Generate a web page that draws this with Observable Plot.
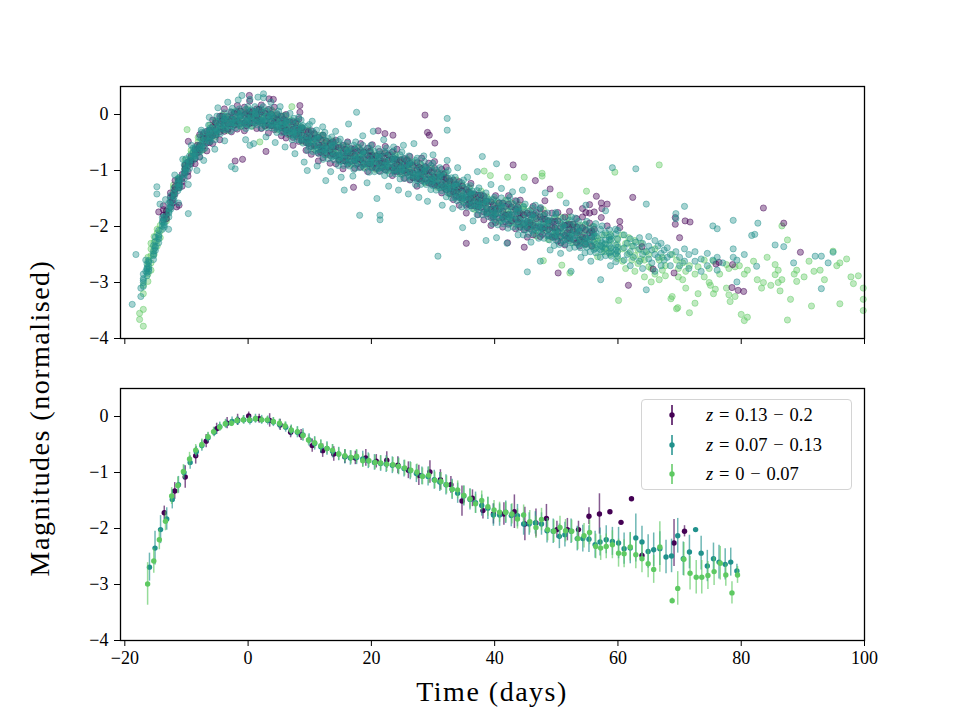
<!DOCTYPE html>
<html>
<head>
<meta charset="utf-8">
<script src="https://cdn.jsdelivr.net/npm/d3@7"></script>
<script src="https://cdn.jsdelivr.net/npm/@observablehq/plot@0.6"></script>
<style>
  body { margin: 0; background: #fff; }
  #fig { position: relative; width: 960px; height: 720px; background: #fff; font-family: "Liberation Serif", "DejaVu Serif", serif; color: #000; }
  #fig > .panel { position: absolute; left: 0; }
  .axis-title { position: absolute; font-size: 28px; letter-spacing: 1.5px; white-space: nowrap; transform: translate(-50%, -50%); }
  #ylab { transform: translate(-50%, -50%) rotate(-90deg); }
  #legend { position: absolute; left: 641px; top: 399px; width: 211px; height: 91px; box-sizing: border-box;
            border: 1px solid #d4d4d4; border-radius: 4px; background: rgba(255,255,255,0.8); }
  #legend .row { position: absolute; left: 0; height: 0; }
  #legend svg { position: absolute; left: 20px; top: -11px; }
  #legend .lab { position: absolute; left: 64px; top: -12px; font-size: 18.5px; white-space: nowrap; line-height: 24px; }
  #legend .op { display: inline-block; width: 22px; text-align: center; }
</style>
</head>
<body>
<div id="fig">
  <div class="panel" id="topPanel" style="top:0"></div>
  <div class="panel" id="bottomPanel" style="top:360px"></div>
  <div class="axis-title" id="ylab" style="left:40px; top:418px">Magnitudes (normalised)</div>
  <div class="axis-title" id="xlab" style="left:492px; top:692px">Time (days)</div>
  <div id="legend"></div>
</div>
<script>
// Redshift groups, colours and axis ticks
const groups = ["0.13 − 0.2", "0.07 − 0.13", "0 − 0.07"];
const colors = ["#440154", "#21918c", "#5ec962"];
const xTicks = [-20, 0, 20, 40, 60, 80, 100];
const yTicks = [0, -1, -2, -3, -4];

// Individual photometry, rows of [time, magnitude, magnitude, ...]
const purpleRows = [
  [-13.75, -1.70, -1.80, -1.88, -1.63], [-12.6, -1.57, -1.48, -1.40, -1.66], [-11.85, -1.29, -1.42, -1.18, -1.34],
  [-10.7, -1.20, -1.07, -1.28, -1.14], [-9.75, -0.92, -1.02, -1.10, -0.85], [-8.6, -0.79, -0.70, -0.62, -0.88],
  [-7.85, -0.55, -0.76, -0.36, -0.63], [-6.7, -0.51, -0.30, -0.65, -0.42], [-5.75, -0.22, -0.38, -0.52, -0.10],
  [-4.6, -0.31, -0.16, -0.03, -0.45], [-3.85, -0.09, -0.30, 0.10, -0.17], [-2.7, -0.17, 0.04, -0.31, -0.08],
  [-1.75, 0.04, -0.12, -0.26, 0.16], [-0.6, -0.15, 0.00, 0.13, -0.29], [0.25, 0.05, -0.16, 0.24, -0.03],
  [1.4, -0.11, 0.10, -0.25, -0.02], [2.15, 0.05, -0.11, -0.25, 0.17], [3.3, -0.19, -0.04, 0.09, -0.33],
  [4.25, -0.06, -0.27, 0.13, -0.14], [5.4, -0.24, -0.03, -0.38, -0.15], [6.15, -0.12, -0.28, -0.42, 0.00],
  [7.3, -0.41, -0.26, -0.13, -0.55], [8.25, -0.27, -0.48, -0.08, -0.35], [9.4, -0.50, -0.29, -0.64, -0.41],
  [10.25, -0.41, -0.57, -0.71, -0.29], [11.4, -0.69, -0.54, -0.41, -0.83], [12.15, -0.56, -0.77, -0.37, -0.64],
  [13.3, -0.73, -0.52, -0.87, -0.64], [14.25, -0.58, -0.74, -0.88, -0.46], [15.4, -0.83, -0.68, -0.55, -0.97],
  [16.15, -0.68, -0.89, -0.49, -0.76], [17.3, -0.82, -0.61, -0.96, -0.73], [18.25, -0.64, -0.80, -0.94, -0.52],
  [19.4, -0.88, -0.73, -0.60, -1.02], [20.15, -0.73, -0.94, -0.54, -0.81], [21.3, -0.87, -0.66, -1.01, -0.78],
  [22.25, -0.69, -0.85, -0.99, -0.57], [23.4, -0.95, -0.80, -0.67, -1.09], [24.15, -0.81, -1.02, -0.62, -0.89],
  [25.3, -1.00, -0.79, -1.14, -0.91], [26.25, -0.87, -1.03, -1.17, -0.75], [27.4, -1.14, -0.99, -0.86, -1.28],
  [28.15, -0.97, -1.18, -0.78, -1.05], [29.3, -1.08, -0.87, -1.22, -0.99], [30.25, -0.96, -1.12, -1.26, -0.84],
  [31.4, -1.26, -1.11, -0.98, -1.40], [32.15, -1.13, -1.34, -0.94, -1.21], [33.3, -1.38, -1.17, -1.52, -1.29],
  [34.25, -1.32, -1.48, -1.62, -1.20], [35.4, -1.62, -1.47, -1.34, -1.76], [36.15, -1.42, -1.63, -1.23, -1.50],
  [37.3, -1.65, -1.44, -1.79, -1.56], [38.25, -1.58, -1.74, -1.88, -1.46], [39.4, -1.84, -1.69, -1.56, -1.98],
  [40.15, -1.68, -1.93, -1.45, -1.78], [41.3, -1.84, -1.58, -2.01, -1.73], [42.25, -1.60, -1.79, -1.96, -1.45],
  [43.4, -1.87, -1.69, -1.54, -2.04], [44.15, -1.76, -2.01, -1.53, -1.86], [45.3, -2.02, -1.76, -2.19, -1.91],
  [46.25, -1.79, -1.98, -2.15, -1.64], [47.4, -2.01, -1.83, -1.68, -2.18], [48.15, -1.77, -2.02, -1.54, -1.87],
  [49.3, -2.02, -1.76, -2.19, -1.91], [50.25, -1.90, -2.09, -2.26, -1.75], [51.4, -2.16, -1.98, -1.83, -2.33],
  [52.15, -1.96, -2.21, -1.73, -2.06], [53.3, -2.12, -1.86, -2.29, -2.01], [54.25, -1.83, -2.02, -2.19, -1.68],
  [55.4, -1.94, -1.76, -1.61, -2.11], [56.15, -1.74, -2.05], [57.3, -1.84, -1.58], [58.25, -1.60, -1.99]
];
const purpleCore = [
  [-13.25, -1.79, -1.86, -1.73], [-12.25, -1.53, -1.45, -1.58], [-11.25, -1.18, -1.25, -1.31],
  [-10.25, -0.97, -1.04, -0.91], [-9.25, -0.83, -0.75, -0.88], [-8.25, -0.55, -0.62, -0.68],
  [-7.25, -0.43, -0.56, -0.34], [-6.25, -0.41, -0.28, -0.50], [-5.25, -0.15, -0.27, -0.36],
  [-4.25, -0.12, -0.25, -0.03], [-3.25, -0.17, -0.04, -0.26], [-2.25, 0.02, -0.10, -0.19],
  [-1.25, -0.03, -0.16, 0.06], [-0.25, -0.11, 0.02, -0.20], [0.75, 0.06, -0.06, -0.15],
  [1.75, 0.00, -0.13, 0.09], [2.75, -0.11, 0.02, -0.20], [3.75, 0.01, -0.11, -0.20],
  [4.75, -0.09, -0.22, 0.00], [5.75, -0.22, -0.09, -0.31], [6.75, -0.13, -0.25, -0.34],
  [7.75, -0.24, -0.37, -0.15], [8.75, -0.37, -0.24, -0.46], [9.75, -0.31, -0.43, -0.52],
  [10.75, -0.43, -0.56, -0.34], [11.75, -0.58, -0.45, -0.67], [12.75, -0.48, -0.60, -0.69],
  [13.75, -0.58, -0.71, -0.49], [14.75, -0.72, -0.59, -0.81], [15.75, -0.62, -0.74, -0.83],
  [16.75, -0.70, -0.83, -0.61], [17.75, -0.79, -0.66, -0.88], [18.75, -0.67, -0.79, -0.88],
  [19.75, -0.75, -0.88, -0.66], [20.75, -0.87, -0.74, -0.96], [21.75, -0.74, -0.86, -0.95],
  [22.75, -0.81, -0.94, -0.72], [23.75, -0.92, -0.79, -1.01], [24.75, -0.81, -0.93, -1.02],
  [25.75, -0.91, -1.04, -0.82], [26.75, -1.04, -0.91, -1.13], [27.75, -0.94, -1.06, -1.15],
  [28.75, -1.02, -1.15, -0.93], [29.75, -1.15, -1.02, -1.24], [30.75, -1.06, -1.18, -1.27],
  [31.75, -1.16, -1.29, -1.07], [32.75, -1.32, -1.19, -1.41], [33.75, -1.25, -1.37, -1.46],
  [34.75, -1.37, -1.50, -1.28], [35.75, -1.51, -1.38, -1.60], [36.75, -1.42, -1.54, -1.63],
  [37.75, -1.53, -1.66, -1.44], [38.75, -1.68, -1.55, -1.77], [39.75, -1.62, -1.74, -1.83],
  [40.75, -1.69, -1.85, -1.58], [41.75, -1.80, -1.64, -1.91], [42.75, -1.65, -1.79, -1.90],
  [43.75, -1.76, -1.92, -1.65], [44.75, -1.95, -1.79, -2.06], [45.75, -1.79, -1.93, -2.04],
  [46.75, -1.86, -2.02, -1.75], [47.75, -2.03, -1.87, -2.14], [48.75, -1.91, -2.05, -2.16],
  [49.75, -2.02, -2.18, -1.91], [50.75, -2.18, -2.02, -2.29], [51.75, -1.97, -2.11, -2.22],
  [52.75, -2.07, -2.23, -1.96], [53.75, -2.24, -2.08, -2.35], [54.75, -2.06, -2.20, -2.31],
  [55.75, -2.19, -2.35, -2.08]
];
const purpleScatter = [
  [-14.5, -1.74], [-11.6, -1.65], [-11.2, -1.62], [-9.7, -0.48], [-2.1, -0.83], [-0.9, -0.80],
  [0.2, 0.34], [2.9, -0.66], [3.4, 0.28], [4.1, 0.27], [8.4, 0.16, 0.04], [17.1, -1.30],
  [21.1, -0.29], [22.2, -0.34], [23.5, -0.37], [28.7, -0.01], [29.1, -0.32], [29.4, -0.37],
  [30.3, -0.51], [35.4, -2.30], [42.1, -2.29], [43.0, -0.90], [44.8, -2.37], [46.6, -1.18],
  [49.0, -1.33], [50.3, -2.83], [54.8, -1.75], [56.5, -1.46], [57.4, -1.68], [60.3, -1.91, -2.02],
  [61.7, -3.05], [62.4, -1.48], [63.9, -2.36], [65.7, -2.76], [69.1, -2.83], [69.3, -1.84, -1.96],
  [70.0, -2.20], [70.9, -1.90], [71.7, -1.92], [75.9, -2.67], [76.4, -2.64], [78.5, -3.09],
  [78.6, -2.68], [79.5, -3.14], [80.4, -3.16], [83.6, -1.67], [86.9, -1.94], [89.6, -2.46]
];
const tealRows = [
  [-17.0, -2.93, -3.00, -2.85, -3.07, -2.96], [-16.4, -2.82, -2.74, -2.88, -2.67, -2.76],
  [-16.1, -2.64, -2.72, -2.80, -2.61, -2.76], [-15.35, -2.49, -2.44, -2.34, -2.52, -2.59],
  [-15.05, -2.27, -2.43, -2.35, -2.19, -2.38], [-14.5, -2.15, -2.22, -2.07, -2.29, -2.18],
  [-13.9, -1.99, -1.91, -2.05, -1.84, -1.93], [-13.6, -1.85, -1.93, -2.01, -1.82, -1.97],
  [-12.85, -1.73, -1.68, -1.58, -1.76, -1.83], [-12.55, -1.53, -1.69, -1.61, -1.45, -1.64],
  [-12.0, -1.40, -1.47, -1.32, -1.54, -1.43], [-11.4, -1.30, -1.22, -1.36, -1.15, -1.24],
  [-11.1, -1.15, -1.23, -1.31, -1.12, -1.27], [-10.35, -1.05, -1.00, -0.90, -1.08, -1.15],
  [-10.05, -0.87, -1.03, -0.95, -0.79, -0.98], [-9.5, -0.82, -0.89, -0.74, -0.96, -0.85],
  [-8.9, -0.75, -0.67, -0.81, -0.60, -0.69], [-8.6, -0.62, -0.70, -0.78, -0.59, -0.74],
  [-7.85, -0.61, -0.54, -0.41, -0.66, -0.75], [-7.55, -0.43, -0.64, -0.53, -0.32, -0.58],
  [-7.0, -0.41, -0.51, -0.31, -0.60, -0.46], [-6.4, -0.39, -0.29, -0.48, -0.19, -0.32],
  [-6.1, -0.28, -0.38, -0.48, -0.24, -0.43], [-5.35, -0.31, -0.24, -0.11, -0.36, -0.45],
  [-5.05, -0.14, -0.35, -0.24, -0.03, -0.29], [-4.5, -0.15, -0.25, -0.05, -0.34, -0.20],
  [-3.9, -0.17, -0.07, -0.26, 0.03, -0.10], [-3.6, -0.07, -0.17, -0.27, -0.03, -0.22],
  [-2.85, -0.15, -0.08, 0.05, -0.20, -0.29], [-2.55, 0.00, -0.21, -0.10, 0.11, -0.15],
  [-2.0, -0.05, -0.15, 0.05, -0.24, -0.10], [-1.4, -0.10, 0.00, -0.19, 0.10, -0.03],
  [-1.1, -0.01, -0.11, -0.21, 0.03, -0.16], [-0.35, -0.11, -0.04, 0.09, -0.16, -0.25],
  [-0.05, 0.03, -0.18, -0.07, 0.14, -0.12], [0.5, -0.02, -0.12, 0.08, -0.21, -0.07],
  [1.1, -0.06, 0.04, -0.15, 0.14, 0.01], [1.4, 0.02, -0.08, -0.18, 0.06, -0.13],
  [2.15, -0.10, -0.03, 0.10, -0.15, -0.24], [2.45, 0.03, -0.18, -0.07, 0.14, -0.12],
  [3.0, -0.04, -0.14, 0.06, -0.23, -0.09], [3.6, -0.10, 0.00, -0.19, 0.10, -0.03],
  [3.9, -0.04, -0.14, -0.24, 0.00, -0.19], [4.65, -0.18, -0.11, 0.02, -0.23, -0.32],
  [4.95, -0.05, -0.26, -0.15, 0.06, -0.20], [5.5, -0.13, -0.23, -0.03, -0.32, -0.18],
  [6.1, -0.22, -0.12, -0.31, -0.02, -0.15], [6.4, -0.15, -0.25, -0.35, -0.11, -0.30],
  [7.15, -0.31, -0.24, -0.11, -0.36, -0.45], [7.45, -0.18, -0.39, -0.28, -0.07, -0.33],
  [8.0, -0.26, -0.36, -0.16, -0.45, -0.31], [8.6, -0.35, -0.22, -0.46, -0.10, -0.26],
  [8.9, -0.25, -0.38, -0.51, -0.20, -0.44], [9.65, -0.46, -0.38, -0.21, -0.52, -0.64],
  [9.95, -0.32, -0.58, -0.44, -0.18, -0.50], [10.5, -0.42, -0.55, -0.30, -0.66, -0.48],
  [11.1, -0.53, -0.40, -0.64, -0.28, -0.44], [11.4, -0.43, -0.56, -0.69, -0.38, -0.62],
  [12.15, -0.62, -0.54, -0.37, -0.68, -0.80], [12.45, -0.46, -0.72, -0.58, -0.32, -0.64],
  [13.0, -0.55, -0.68, -0.43, -0.79, -0.61], [13.6, -0.65, -0.52, -0.76, -0.40, -0.56],
  [13.9, -0.55, -0.68, -0.81, -0.50, -0.74], [14.65, -0.73, -0.65, -0.48, -0.79, -0.91],
  [14.95, -0.58, -0.84, -0.70, -0.44, -0.76], [15.5, -0.67, -0.80, -0.55, -0.91, -0.73],
  [16.1, -0.76, -0.63, -0.87, -0.51, -0.67], [16.4, -0.66, -0.79, -0.92, -0.61, -0.85],
  [17.15, -0.80, -0.72, -0.55, -0.86, -0.98], [17.45, -0.63, -0.89, -0.75, -0.49, -0.81],
  [18.0, -0.71, -0.84, -0.59, -0.95, -0.77], [18.6, -0.80, -0.67, -0.91, -0.55, -0.71],
  [18.9, -0.70, -0.83, -0.96, -0.65, -0.89], [19.65, -0.85, -0.77, -0.60, -0.91, -1.03],
  [19.95, -0.69, -0.95, -0.81, -0.55, -0.87], [20.5, -0.78, -0.91, -0.66, -1.02, -0.84],
  [21.1, -0.86, -0.73, -0.97, -0.61, -0.77], [21.4, -0.76, -0.89, -1.02, -0.71, -0.95],
  [22.15, -0.91, -0.83, -0.66, -0.97, -1.09], [22.45, -0.74, -1.00, -0.86, -0.60, -0.92],
  [23.0, -0.82, -0.95, -0.70, -1.06, -0.88], [23.6, -0.90, -0.77, -1.01, -0.65, -0.81],
  [23.9, -0.80, -0.93, -1.06, -0.75, -0.99], [24.65, -0.97, -0.89, -0.72, -1.03, -1.15],
  [24.95, -0.81, -1.07, -0.93, -0.67, -0.99], [25.5, -0.90, -1.03, -0.78, -1.14, -0.96],
  [26.1, -0.99, -0.86, -1.10, -0.74, -0.90], [26.4, -0.90, -1.03, -1.16, -0.85, -1.09],
  [27.15, -1.07, -0.99, -0.82, -1.13, -1.25], [27.45, -0.92, -1.18, -1.04, -0.78, -1.10],
  [28.0, -1.01, -1.14, -0.89, -1.25, -1.07], [28.6, -1.09, -0.96, -1.20, -0.84, -1.00],
  [28.9, -0.99, -1.12, -1.25, -0.94, -1.18], [29.65, -1.16, -1.08, -0.91, -1.22, -1.34],
  [29.95, -1.01, -1.27, -1.13, -0.87, -1.19], [30.5, -1.11, -1.24, -0.99, -1.35, -1.17],
  [31.1, -1.20, -1.07, -1.31, -0.95, -1.11], [31.4, -1.10, -1.23, -1.36, -1.05, -1.29],
  [32.15, -1.29, -1.21, -1.04, -1.35, -1.47], [32.45, -1.14, -1.40, -1.26, -1.00, -1.32],
  [33.0, -1.25, -1.38, -1.13, -1.49, -1.31], [33.6, -1.37, -1.24, -1.48, -1.12, -1.28],
  [33.9, -1.28, -1.41, -1.54, -1.23, -1.47], [34.65, -1.47, -1.39, -1.22, -1.53, -1.65],
  [34.95, -1.31, -1.57, -1.43, -1.17, -1.49], [35.5, -1.41, -1.54, -1.29, -1.65, -1.47],
  [36.1, -1.52, -1.39, -1.63, -1.27, -1.43], [36.4, -1.42, -1.55, -1.68, -1.37, -1.61],
  [37.15, -1.61, -1.53, -1.36, -1.67, -1.79], [37.45, -1.45, -1.71, -1.57, -1.31, -1.63],
  [38.0, -1.55, -1.68, -1.43, -1.79, -1.61], [38.6, -1.65, -1.52, -1.76, -1.40, -1.56],
  [38.9, -1.56, -1.69, -1.82, -1.51, -1.75], [39.65, -1.77, -1.69, -1.52, -1.83, -1.95],
  [39.95, -1.62, -1.88, -1.74, -1.48, -1.80], [40.5, -1.69, -1.84, -1.56, -1.97, -1.76],
  [41.1, -1.77, -1.62, -1.90, -1.49, -1.67], [41.4, -1.65, -1.80, -1.95, -1.59, -1.87],
  [42.15, -1.82, -1.73, -1.53, -1.89, -2.03], [42.45, -1.64, -1.94, -1.78, -1.48, -1.85],
  [43.0, -1.73, -1.88, -1.60, -2.01, -1.80], [43.6, -1.83, -1.68, -1.96, -1.55, -1.73],
  [43.9, -1.73, -1.88, -2.03, -1.67, -1.95], [44.65, -1.94, -1.85, -1.65, -2.01, -2.15],
  [44.95, -1.76, -2.06, -1.90, -1.60, -1.97], [45.5, -1.86, -2.01, -1.73, -2.14, -1.93],
  [46.1, -1.95, -1.80, -2.08, -1.67, -1.85], [46.4, -1.83, -1.98, -2.13, -1.77, -2.05],
  [47.15, -2.00, -1.91, -1.71, -2.07, -2.21], [47.45, -1.82, -2.12, -1.96, -1.66, -2.03],
  [48.0, -1.93, -2.08, -1.80, -2.21, -2.00], [48.6, -2.04, -1.89, -2.17, -1.76, -1.94],
  [48.9, -1.94, -2.09, -2.24, -1.88, -2.16], [49.65, -2.13, -2.04, -1.84, -2.20, -2.34],
  [49.95, -1.94, -2.24, -2.08, -1.78, -2.15], [50.5, -2.04, -2.19, -1.91, -2.32, -2.11],
  [51.1, -2.13, -1.98, -2.26, -1.85, -2.03], [51.4, -2.01, -2.16, -2.31, -1.95, -2.23],
  [52.15, -2.18, -2.09, -1.89, -2.25, -2.39], [52.45, -1.99, -2.29, -2.13, -1.83, -2.20],
  [53.0, -2.09, -2.24, -1.96, -2.37, -2.16], [53.6, -2.19, -2.04, -2.32, -1.91, -2.09],
  [53.9, -2.08, -2.23, -2.38, -2.02, -2.30], [54.65, -2.26, -2.17, -1.97, -2.33, -2.47],
  [54.95, -2.07, -2.37, -2.21, -1.91, -2.28], [55.5, -2.17, -2.32, -2.04, -2.45, -2.24],
  [56.1, -2.28, -2.13, -2.41, -2.00, -2.18], [56.4, -2.17, -2.32, -2.47, -2.11, -2.39],
  [57.15, -2.34, -2.25, -2.05, -2.41, -2.55], [57.45, -2.15, -2.45, -2.29, -1.99, -2.36],
  [58.0, -2.24, -2.39, -2.11, -2.52, -2.31], [58.6, -2.34, -2.19, -2.47, -2.06, -2.24],
  [58.9, -2.23, -2.38, -2.53, -2.17, -2.45], [59.65, -2.42, -2.33, -2.13, -2.49, -2.63],
  [59.95, -2.23, -2.53, -2.37, -2.07, -2.44]
];
const tealScatter = [
  [-18.8, -3.39], [-18.2, -2.50], [-17.4, -3.25, -3.10], [-16.6, -2.60, -2.80], [-14.8, -1.29, -1.42],
  [-14.3, -1.60], [-13.4, -1.52], [-12.9, -2.05], [-11.9, -1.08], [-11.3, -1.58], [-10.6, -0.80],
  [-9.7, -1.77, -1.25], [-9.2, -0.55], [-8.3, -1.00], [-7.6, -0.28], [-7.2, -0.82], [-6.3, -0.05],
  [-5.4, -0.62], [-4.9, 0.12], [-3.8, -0.47], [-3.3, 0.22], [-2.7, -0.93], [-2.1, -0.97], [-1.6, 0.26],
  [-1.0, 0.34], [-0.4, -0.45], [0.3, 0.27, -0.55], [0.9, -0.52], [1.6, 0.31], [2.5, 0.30, 0.37],
  [2.9, -0.40], [3.7, 0.22], [4.4, -0.50], [5.2, 0.14], [6.0, -0.58], [6.8, 0.02], [7.6, -0.70],
  [8.2, -0.05], [9.1, -0.85], [9.6, -1.00], [10.4, -0.12], [11.2, -0.92], [12.1, -0.22], [12.6, -1.18],
  [13.4, -1.02], [14.2, -0.30], [15.1, -1.12], [15.6, -1.35], [16.3, -0.17], [17.0, -1.10], [17.6, 0.04],
  [18.1, -1.80], [18.6, -0.38], [19.3, -1.22], [20.3, -0.30], [20.9, -1.50], [21.4, -1.80, -1.88],
  [22.0, -0.45], [22.8, -1.28], [23.6, -0.58], [24.4, -1.35], [25.2, -0.55], [26.0, -1.42], [26.9, -0.52],
  [27.7, -1.48], [28.5, -0.74], [29.1, -1.55], [30.0, -0.72], [30.8, -2.53], [31.5, -1.62],
  [32.3, -0.07, -0.28, -0.82], [33.2, -1.68], [34.0, -0.95], [34.8, -2.02], [35.6, -1.12], [36.5, -1.90],
  [37.2, -1.02], [38.0, -0.75], [38.6, -2.25], [39.4, -1.25], [40.3, -0.88, -2.20], [41.1, -1.32],
  [42.0, -2.30], [42.9, -1.38], [43.8, -2.15], [44.5, -1.35], [45.3, -2.81], [45.9, -2.28], [46.6, -1.62],
  [47.4, -2.62], [48.2, -1.40], [49.0, -2.42], [49.9, -1.75], [50.7, -2.48], [51.6, -1.58], [52.4, -2.80],
  [53.1, -1.85], [54.0, -2.55], [54.8, -1.62], [55.6, -2.62], [56.4, -1.95], [57.2, -2.95], [58.0, -1.72],
  [58.8, -2.70], [59.1, -0.95], [59.6, -2.05],
  [61.0, -2.15, -2.38, -2.60], [61.5, -2.30, -2.50], [62.0, -2.22, -2.45, -2.70], [62.5, -2.35, -2.55],
  [62.9, -0.97, -2.28], [63.5, -2.20, -2.40, -2.62], [64.0, -2.30, -2.50, -2.75], [64.6, -1.60, -2.45, -3.13],
  [65.0, -2.18, -2.35, -2.58], [65.5, -2.42, -2.65], [66.0, -2.25, -2.50, -2.80], [66.5, -2.35, -2.55],
  [67.0, -2.30, -2.48, -2.70], [67.5, -2.42, -2.60], [68.0, -2.38, -2.55], [68.5, -2.50, -2.70],
  [69.4, -1.77, -1.86, -2.45], [70.0, -2.55, -2.70], [70.8, -1.64, -2.40, -2.62], [71.5, -2.50, -2.75],
  [72.5, -2.45, -2.62], [73.5, -2.58, -2.80], [74.5, -2.48, -2.70], [75.4, -1.99, -2.60],
  [76.1, -2.04, -2.55, -2.78], [77.0, -2.65], [78.7, -1.89, -2.40, -2.55], [79.3, -2.99, -2.60],
  [80.5, -2.50], [81.7, -2.16], [82.2, -2.14], [82.5, -2.71], [82.7, -1.94], [85.5, -2.33],
  [86.9, -2.36], [88.5, -2.65], [92.0, -2.53], [93.0, -2.53, -3.11], [94.1, -2.65], [94.9, -2.46]
];
const greenRows = [
  [-17.6, -3.55, -3.66], [-17.0, -3.78, -3.05, -3.20, -3.48], [-16.25, -2.55, -2.70, -2.85, -2.98, -2.62],
  [-15.75, -2.40, -2.52, -2.65, -2.30, -2.78], [-15.25, -2.28, -2.40, -2.50, -2.18], [-14.75, -2.12, -2.25, -2.35, -2.05],
  [-14.25, -1.98, -2.08, -2.20], [-13.25, -1.78, -1.86, -1.72, -1.90], [-12.1, -1.39, -1.31, -1.44, -1.26],
  [-11.3, -1.14, -1.21, -1.31, -1.16], [-10.2, -0.97, -0.90, -0.81, -0.95], [-9.9, -0.27],
  [-9.25, -0.70, -0.78, -0.64, -0.82], [-8.1, -0.60, -0.49, -0.68, -0.41], [-7.3, -0.38, -0.49, -0.63, -0.42],
  [-6.2, -0.42, -0.32, -0.19, -0.38], [-5.25, -0.21, -0.32, -0.12, -0.39], [-4.1, -0.20, -0.09, -0.28, -0.01],
  [-3.3, -0.04, -0.15, -0.29, -0.08], [-2.2, -0.18, -0.08, 0.05, -0.14], [-1.25, -0.03, -0.14, 0.06, -0.21],
  [-0.1, -0.10, 0.01, -0.18, 0.09], [0.7, 0.04, -0.07, -0.21, 0.00], [1.8, -0.14, -0.04, 0.09, -0.10],
  [1.9, -0.49], [2.75, -0.03, -0.14, 0.06, -0.21], [3.9, -0.12, -0.01, -0.20, 0.07],
  [4.7, -0.02, -0.13, -0.27, -0.06], [5.8, -0.25, -0.15, -0.02, -0.21], [6.75, -0.19, -0.30, -0.10, -0.37],
  [7.1, 0.14], [7.9, -0.31, -0.20, -0.39, -0.12], [8.7, -0.23, -0.34, -0.48, -0.27],
  [9.8, -0.51, -0.41, -0.28, -0.47], [10.75, -0.44, -0.55, -0.35, -0.62], [11.9, -0.56, -0.45, -0.64, -0.37],
  [12.7, -0.47, -0.58, -0.72, -0.51], [13.8, -0.70, -0.60, -0.47, -0.66], [14.75, -0.64, -0.75, -0.55, -0.82],
  [15.9, -0.75, -0.64, -0.83, -0.56], [16.7, -0.64, -0.75, -0.89, -0.68], [17.8, -0.82, -0.72, -0.59, -0.78],
  [18.75, -0.76, -0.87, -0.67, -0.94], [19.9, -0.84, -0.73, -0.92, -0.65], [20.7, -0.73, -0.84, -0.98, -0.77],
  [21.8, -0.93, -0.83, -0.70, -0.89], [22.75, -0.82, -0.93, -0.73, -1.00], [23.9, -0.91, -0.80, -0.99, -0.72],
  [24.7, -0.81, -0.92, -1.06, -0.85], [25.8, -1.03, -0.93, -0.80, -0.99], [26.75, -0.94, -1.05, -0.85, -1.12],
  [27.9, -1.07, -0.96, -1.15, -0.88], [28.7, -0.97, -1.08, -1.22, -1.01], [29.8, -1.19, -1.09, -0.96, -1.15],
  [30.75, -1.12, -1.23, -1.03, -1.30], [31.9, -1.24, -1.13, -1.32, -1.05], [32.7, -1.17, -1.28, -1.42, -1.21],
  [33.8, -1.40, -1.30, -1.17, -1.36], [34.75, -1.35, -1.46, -1.26, -1.53], [35.9, -1.50, -1.39, -1.58, -1.31],
  [36.7, -1.44, -1.55, -1.69, -1.48], [37.8, -1.60, -1.50, -1.37, -1.56], [38.75, -1.56, -1.67, -1.47, -1.74],
  [39.9, -1.71, -1.60, -1.79, -1.52], [40.7, -1.58, -1.73, -1.91, -1.63], [41.8, -1.83, -1.70, -1.53, -1.78],
  [42.75, -1.70, -1.84, -1.58, -1.94], [43.9, -1.86, -1.72, -1.97, -1.61], [44.7, -1.64, -1.79, -1.97, -1.69],
  [45.8, -2.01, -1.88, -1.71, -1.96], [46.75, -1.93, -2.07, -1.81, -2.17], [47.9, -1.95, -1.81, -2.06, -1.70],
  [48.7, -1.90, -2.05, -2.23, -1.95], [49.8, -2.16, -2.03, -1.86, -2.11], [50.75, -1.95, -2.09, -1.83, -2.19],
  [51.9, -2.09, -1.95, -2.20, -1.84], [52.7, -1.96, -2.11, -2.29, -2.01], [53.8, -2.28, -2.15, -1.98, -2.23],
  [54.75, -2.08, -2.22, -1.96, -2.32], [55.9, -2.25, -2.11, -2.36, -2.00], [56.7, -2.21, -2.36, -2.54, -2.26],
  [57.8, -2.45, -2.32, -2.15, -2.40], [58.75, -2.26, -2.40, -2.14, -2.50], [59.9, -2.46, -2.32, -2.57, -2.21]
];
const greenScatter = [
  [38.3, -1.01], [39.3, -1.09], [42.1, -1.12], [44.8, -1.12], [47.7, -1.05, -1.10], [47.9, -2.61],
  [50.6, -1.44], [50.9, -2.69], [52.2, -2.83], [54.9, -1.37], [59.5, -1.03], [60.1, -3.32],
  [60.75, -2.15, -2.40, -2.62], [61.25, -2.30, -2.75], [61.75, -2.20, -2.48], [62.25, -2.60, -2.35],
  [62.75, -2.25, -2.52, -2.80], [63.25, -2.42, -2.66], [63.75, -2.30, -2.58], [64.3, -2.45, -2.60, -2.90],
  [65.0, -2.50, -2.72], [65.4, -2.75, -2.99], [66.0, -2.40, -2.85], [66.7, -0.90, -2.60, -2.95],
  [67.2, -2.55, -2.78], [67.7, -2.88, -2.70], [68.6, -3.29], [68.8, -2.50, -3.25], [69.5, -3.47, -2.60],
  [69.7, -3.45], [69.8, -2.75, -2.90], [70.5, -2.95, -2.65], [71.0, -3.10, -2.80], [71.6, -3.54, -2.70],
  [72.5, -3.37, -2.85], [73.0, -3.20, -2.72], [74.0, -2.90, -2.60], [74.8, -3.00, -2.75], [75.0, -3.05],
  [75.5, -3.20, -2.62], [75.8, -3.12], [76.5, -2.85], [77.6, -3.10, -2.68], [78.0, -2.75, -3.22],
  [78.2, -3.34], [79.0, -2.72, -3.25], [79.7, -2.70], [80.0, -3.57], [80.5, -2.85, -3.68],
  [81.0, -3.62, -2.78], [82.0, -2.62], [82.6, -2.95], [83.3, -3.10], [83.6, -3.00], [84.2, -2.55],
  [84.8, -3.05], [85.5, -2.68, -2.86], [86.0, -3.00, -2.78], [86.3, -3.15], [86.6, -1.99, -2.95],
  [87.5, -2.24, -3.67], [88.0, -3.30], [88.6, -2.85], [89.0, -2.78, -2.98], [90.2, -2.90],
  [91.0, -2.62], [91.4, -3.42], [91.8, -2.80], [92.8, -2.78], [93.5, -2.95], [94.9, -2.44],
  [95.5, -2.70], [96.0, -2.65, -3.38], [97.1, -2.58], [97.8, -2.90], [98.2, -3.02], [99.0, -2.88],
  [99.8, -3.10, -3.30, -3.50]
];

// Binned means with their spread, one set per redshift group
const purpleDays = [-13.6, -11.9, -10.2, -8.5, -6.8, -5.1, -3.4, -1.7, 0.1, 1.8, 3.5, 5.2, 6.9, 8.6, 10.4, 12.1, 13.9, 15.7, 17.4, 19.1, 20.8, 22.5, 24.3, 26.0, 27.7, 29.5, 31.2, 32.9, 34.7, 36.4, 38.1, 39.8, 41.5, 43.2, 44.9, 46.7, 48.4, 50.1, 51.8, 53.6, 55.3, 57.0, 58.7, 60.5, 62.2, 63.9, 69.1, 70.8];
const purpleMag = [-1.72, -1.33, -1.08, -0.70, -0.44, -0.22, -0.12, -0.06, 0.01, -0.04, -0.07, -0.15, -0.28, -0.33, -0.52, -0.61, -0.67, -0.72, -0.74, -0.74, -0.80, -0.78, -0.87, -0.96, -1.05, -0.99, -1.13, -1.22, -1.51, -1.46, -1.68, -1.74, -1.74, -1.70, -1.92, -1.90, -1.82, -2.02, -2.02, -2.02, -1.78, -1.74, -1.70, -1.89, -1.47, -2.48, -2.26, -2.05];
const purpleErr = [0.12, 0.15, 0.20, 0.15, 0.12, 0.10, 0.10, 0.10, 0.07, 0.08, 0.12, 0.10, 0.10, 0.10, 0.12, 0.12, 0.13, 0.12, 0.12, 0.15, 0.12, 0.15, 0.15, 0.15, 0.18, 0.20, 0.18, 0.15, 0.27, 0.15, 0.15, 0.18, 0.20, 0.30, 0.30, 0.25, 0.25, 0.15, 0.20, 0.15, 0.15, 0.36, 0, 0, 0, 0.05, 0.42, 0.10];

const tealDays = [-16.0, -15.1, -14.2, -13.2, -12.3, -11.3, -10.4, -9.4, -8.4, -7.5, -6.5, -5.5, -4.6, -3.6, -2.6, -1.7, -0.7, 0.3, 1.2, 2.2, 3.2, 4.1, 5.1, 6.1, 7.0, 8.0, 8.9, 9.9, 10.8, 11.8, 12.8, 13.7, 14.7, 15.7, 16.6, 17.6, 18.6, 19.5, 20.5, 21.5, 22.4, 23.4, 24.4, 25.3, 26.3, 27.3, 28.2, 29.2, 30.2, 31.1, 32.1, 33.1, 34.0, 35.0, 36.0, 36.9, 37.9, 38.9, 39.8, 40.8, 41.8, 42.7, 43.7, 44.7, 45.6, 46.6, 47.6, 48.5, 49.5, 50.5, 51.4, 52.4, 53.4, 54.3, 55.3, 56.3, 57.1, 58.1, 59.1, 60.1, 61.0, 62.0, 62.9, 63.9, 64.9, 65.8, 66.8, 67.8, 68.7, 69.7, 70.6, 71.6, 72.6, 73.5, 74.5, 75.5, 76.4, 77.4, 78.3, 79.3];
const tealMag = [-2.69, -2.35, -2.02, -1.83, -1.48, -1.22, -1.00, -0.82, -0.63, -0.52, -0.38, -0.28, -0.18, -0.13, -0.09, -0.08, -0.06, -0.07, -0.04, -0.06, -0.07, -0.10, -0.14, -0.19, -0.25, -0.28, -0.33, -0.42, -0.48, -0.54, -0.57, -0.62, -0.67, -0.72, -0.74, -0.73, -0.76, -0.79, -0.82, -0.84, -0.85, -0.87, -0.89, -0.93, -0.97, -1.02, -1.06, -1.07, -1.13, -1.17, -1.22, -1.30, -1.37, -1.42, -1.48, -1.54, -1.59, -1.64, -1.76, -1.76, -1.71, -1.77, -1.77, -1.92, -1.92, -1.90, -1.92, -2.04, -2.05, -2.14, -2.11, -2.05, -2.18, -2.18, -2.19, -2.29, -2.24, -2.20, -2.23, -2.26, -2.36, -2.35, -2.17, -2.24, -2.41, -2.38, -2.36, -2.51, -2.49, -2.13, -2.54, -2.42, -2.02, -2.44, -2.67, -2.54, -2.60, -2.64, -2.60, -2.76];
const tealErr = [0.25, 0.30, 0.25, 0.20, 0.17, 0.15, 0.13, 0.12, 0.10, 0.10, 0.09, 0.08, 0.08, 0.08, 0.08, 0.08, 0.08, 0.08, 0.08, 0.08, 0.08, 0.08, 0.09, 0.09, 0.10, 0.10, 0.11, 0.11, 0.12, 0.12, 0.12, 0.12, 0.12, 0.13, 0.13, 0.13, 0.14, 0.14, 0.14, 0.14, 0.15, 0.15, 0.15, 0.15, 0.16, 0.16, 0.16, 0.17, 0.17, 0.17, 0.18, 0.18, 0.18, 0.18, 0.19, 0.19, 0.19, 0.20, 0.20, 0.20, 0.20, 0.20, 0.20, 0.20, 0.20, 0.20, 0.20, 0.22, 0.22, 0.22, 0.22, 0.22, 0.22, 0.24, 0.24, 0.24, 0.25, 0.25, 0.25, 0.28, 0.28, 0.28, 0.43, 0.28, 0.30, 0.30, 0.30, 0.30, 0.30, 0.31, 0.30, 0.30, 0, 0.30, 0.28, 0.28, 0.30, 0.28, 0.25, 0.12];

const greenDays = [-16.3, -15.3, -14.4, -13.4, -12.4, -11.4, -10.5, -9.5, -8.5, -7.5, -6.5, -5.6, -4.6, -3.7, -2.7, -1.8, -0.8, 0.2, 1.2, 2.2, 3.1, 4.1, 5.1, 6.0, 7.0, 8.0, 8.9, 9.8, 10.8, 11.8, 12.8, 13.7, 14.7, 15.7, 16.7, 17.6, 18.6, 19.6, 20.6, 21.5, 22.5, 23.5, 24.4, 25.4, 26.4, 27.4, 28.3, 29.3, 30.3, 31.3, 32.2, 33.1, 34.0, 35.0, 36.0, 36.9, 37.9, 38.9, 39.9, 40.8, 41.8, 42.8, 43.7, 44.7, 45.7, 46.7, 47.6, 48.6, 49.6, 50.6, 51.5, 52.5, 53.5, 54.5, 55.4, 56.4, 57.2, 58.1, 59.1, 60.1, 61.0, 62.0, 62.9, 63.9, 64.9, 65.8, 66.8, 68.8, 69.7, 70.7, 71.7, 72.7, 73.6, 74.6, 75.6, 76.6, 77.5, 78.5, 79.4];
const greenMag = [-2.99, -2.58, -2.20, -1.87, -1.42, -1.23, -0.98, -0.76, -0.60, -0.50, -0.36, -0.27, -0.19, -0.13, -0.12, -0.07, -0.06, -0.06, -0.04, -0.06, -0.06, -0.09, -0.12, -0.17, -0.24, -0.27, -0.34, -0.42, -0.47, -0.52, -0.57, -0.60, -0.67, -0.70, -0.73, -0.71, -0.79, -0.79, -0.82, -0.83, -0.85, -0.86, -0.89, -0.92, -0.96, -0.99, -1.07, -1.05, -1.14, -1.16, -1.22, -1.30, -1.31, -1.41, -1.47, -1.56, -1.50, -1.61, -1.67, -1.71, -1.71, -1.74, -1.83, -1.76, -1.88, -1.98, -1.84, -2.02, -2.05, -1.98, -2.04, -2.05, -2.18, -2.13, -2.07, -2.32, -2.35, -2.32, -2.29, -2.44, -2.45, -2.33, -2.47, -2.54, -2.63, -2.73, -2.33, -3.29, -3.07, -2.55, -2.80, -2.87, -2.87, -2.84, -2.77, -2.62, -2.83, -3.15, -2.83];
const greenErr = [0.38, 0.22, 0.18, 0.17, 0.15, 0.15, 0.12, 0.12, 0.10, 0.10, 0.08, 0.08, 0.07, 0.07, 0.06, 0.06, 0.07, 0.07, 0.06, 0.06, 0.06, 0.07, 0.07, 0.07, 0.08, 0.08, 0.09, 0.09, 0.10, 0.10, 0.10, 0.10, 0.11, 0.11, 0.12, 0.12, 0.12, 0.12, 0.13, 0.13, 0.13, 0.13, 0.14, 0.14, 0.14, 0.14, 0.15, 0.15, 0.15, 0.16, 0.16, 0.16, 0.16, 0.17, 0.17, 0.17, 0.17, 0.17, 0.17, 0.18, 0.18, 0.18, 0.18, 0.18, 0.20, 0.20, 0.20, 0.20, 0.20, 0.20, 0.20, 0.20, 0.20, 0.22, 0.22, 0.22, 0.22, 0.22, 0.25, 0.25, 0.25, 0.25, 0.25, 0.25, 0.25, 0.25, 0.45, 0.05, 0.30, 0.30, 0.30, 0.30, 0.30, 0.25, 0.25, 0.30, 0.20, 0.20, 0.15];

// ---- build tables ----
const fromRows = (...sets) => sets.flat().flatMap(([t, ...ms]) => ms.map(m => ({t, m})));
const cloud = [
  fromRows(purpleRows, purpleCore, purpleScatter),
  fromRows(tealRows, tealScatter),
  fromRows(greenRows, greenScatter)
];
// the nearest group is laid down first, the two farther groups over it
const cloudOrder = [2, 0, 1];
const binned = [
  purpleDays.map((t, i) => ({t, m: purpleMag[i], e: purpleErr[i]})),
  tealDays.map((t, i) => ({t, m: tealMag[i], e: tealErr[i]})),
  greenDays.map((t, i) => ({t, m: greenMag[i], e: greenErr[i]}))
];

const fmt = d => (d < 0 ? "\u2212" + Math.abs(d) : String(d));
const font = '"Liberation Serif", "DejaVu Serif", serif';
const common = {
  width: 960, height: 360, marginLeft: 120, marginRight: 96,
  style: {fontFamily: font, fontSize: "18px", color: "#000", background: "transparent", overflow: "visible"},
};
const xScale = {domain: [-20.7, 100], ticks: xTicks, tickSize: 6, tickPadding: 5, label: null};
const yScale = {domain: [-4, 0.5], ticks: yTicks, tickSize: 6, tickPadding: 6, tickFormat: fmt, label: null};

// Top: every observation as a translucent dot
const topChart = Plot.plot({
  ...common, marginTop: 86, marginBottom: 22,
  x: {...xScale, tickFormat: () => ""},
  y: yScale,
  marks: [
    ...cloudOrder.map(i => Plot.dot(cloud[i], {
      x: "t", y: "m", r: 3.1, fill: colors[i], fillOpacity: 0.4,
      stroke: colors[i], strokeOpacity: 0.45, strokeWidth: 1
    })),
    Plot.frame({stroke: "#000", strokeWidth: 1.3})
  ]
});

// Bottom: binned means with error bars
const bottomChart = Plot.plot({
  ...common, marginTop: 28, marginBottom: 80,
  x: {...xScale, tickFormat: fmt},
  y: yScale,
  marks: [
    ...binned.flatMap((rows, i) => [
      Plot.ruleX(rows.filter(d => d.e > 0), {x: "t", y1: d => d.m - d.e, y2: d => d.m + d.e,
        stroke: colors[i], strokeOpacity: 0.65, strokeWidth: 1.5}),
      Plot.dot(rows, {x: "t", y: "m", r: 2.7, fill: colors[i]})
    ]),
    Plot.frame({stroke: "#000", strokeWidth: 1.3})
  ]
});

document.getElementById("topPanel").appendChild(topChart);
document.getElementById("bottomPanel").appendChild(bottomChart);

// Legend
const legend = d3.select("#legend");
groups.forEach((g, i) => {
  const row = legend.append("div").attr("class", "row").style("top", `${15 + i * 29.5}px`);
  const svg = row.append("svg").attr("width", 20).attr("height", 22);
  svg.append("line").attr("x1", 10).attr("x2", 10).attr("y1", 1).attr("y2", 21)
    .attr("stroke", colors[i]).attr("stroke-width", 1.5);
  svg.append("circle").attr("cx", 10).attr("cy", 11).attr("r", 2.7).attr("fill", colors[i]);
  const [a, b] = g.split(" − ");
  row.append("div").attr("class", "lab")
    .html(`<i>z</i><span class="op">=</span>${a}<span class="op">\u2212</span>${b}`);
});
</script>
</body>
</html>
